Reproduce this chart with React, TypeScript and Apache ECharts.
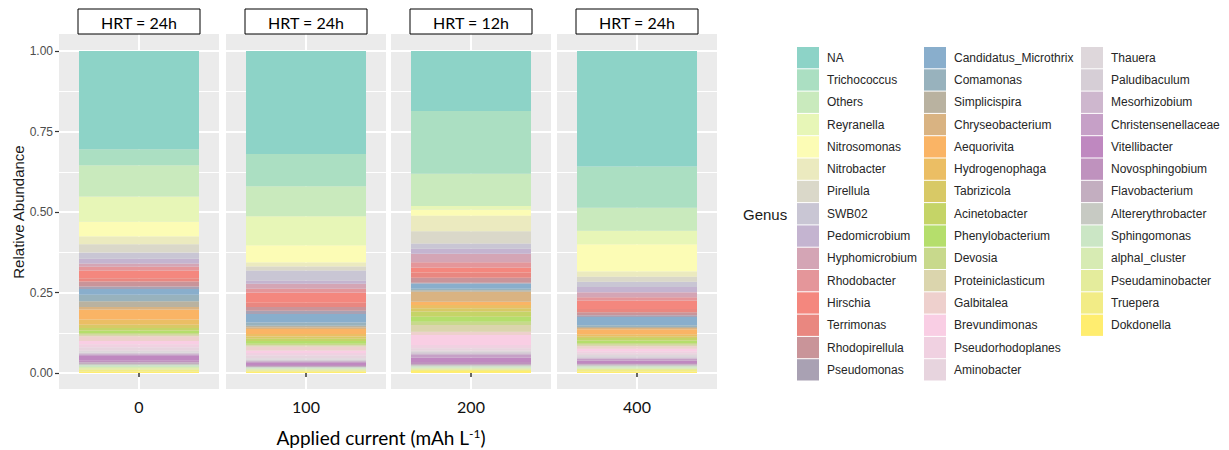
import React, { useEffect, useRef } from "react";
import * as echarts from "echarts";

// ---- Data ----
const genera = [
  "NA", "Trichococcus", "Others", "Reyranella", "Nitrosomonas", "Nitrobacter", "Pirellula", "SWB02",
  "Pedomicrobium", "Hyphomicrobium", "Rhodobacter", "Hirschia", "Terrimonas", "Rhodopirellula", "Pseudomonas",
  "Candidatus_Microthrix", "Comamonas", "Simplicispira", "Chryseobacterium", "Aequorivita", "Hydrogenophaga",
  "Tabrizicola", "Acinetobacter", "Phenylobacterium", "Devosia", "Proteiniclasticum", "Galbitalea",
  "Brevundimonas", "Pseudorhodoplanes", "Aminobacter",
  "Thauera", "Paludibaculum", "Mesorhizobium", "Christensenellaceae", "Vitellibacter", "Novosphingobium",
  "Flavobacterium", "Altererythrobacter", "Sphingomonas", "alphaI_cluster", "Pseudaminobacter", "Truepera",
  "Dokdonella",
];

const currents = ["0", "100", "200", "400"];
const hrtLabels = ["HRT = 24h", "HRT = 24h", "HRT = 12h", "HRT = 24h"];
const yTicks = [0, 0.25, 0.5, 0.75, 1];

// relative abundance per genus (same order as genera)
const abund0 = [0.305, 0.05, 0.097, 0.078, 0.046, 0.024, 0.026, 0.019, 0.015, 0.01, 0.012, 0.024, 0.01, 0.015, 0.008,
  0.018, 0.02, 0.018, 0.008, 0.031, 0.016, 0.01, 0.008, 0.008, 0.005, 0.005, 0.015, 0.01, 0.01, 0.01,
  0.005, 0.003, 0.003, 0.005, 0.015, 0.005, 0.005, 0.004, 0.005, 0.004, 0.005, 0.005, 0.005];
const abund100 = [0.32, 0.1, 0.093, 0.09, 0.054, 0.012, 0.013, 0.031, 0.01, 0.015, 0.013, 0.031, 0.013, 0.012, 0.01,
  0.026, 0.01, 0.005, 0.005, 0.016, 0.008, 0.007, 0.007, 0.008, 0.005, 0.004, 0.012, 0.008, 0.008, 0.008,
  0.005, 0.004, 0.003, 0.003, 0.006, 0.003, 0.003, 0.002, 0.003, 0.003, 0.003, 0.003, 0.005];
const abund200 = [0.186, 0.195, 0.1, 0.012, 0.019, 0.048, 0.038, 0.016, 0.016, 0.026, 0.016, 0.016, 0.016, 0.016, 0.002,
  0.016, 0.005, 0.005, 0.031, 0.01, 0.01, 0.01, 0.016, 0.016, 0.01, 0.021, 0.01, 0.031, 0.01, 0.008,
  0.004, 0.004, 0.005, 0.008, 0.014, 0.006, 0.004, 0.003, 0.004, 0.003, 0.004, 0.004, 0.006];
const abund400 = [0.359, 0.128, 0.071, 0.042, 0.085, 0.016, 0.016, 0.016, 0.016, 0.016, 0.01, 0.026, 0.01, 0.01, 0.005,
  0.026, 0.005, 0.003, 0.004, 0.016, 0.006, 0.005, 0.008, 0.008, 0.005, 0.005, 0.008, 0.008, 0.006, 0.005,
  0.004, 0.004, 0.004, 0.005, 0.008, 0.004, 0.003, 0.003, 0.004, 0.004, 0.004, 0.004, 0.005];
const abundances = [abund0, abund100, abund200, abund400];

// ---- Palette: colorRampPalette(brewer Set3) ----
const set3 = ["#8DD3C7", "#FFFFB3", "#BEBADA", "#FB8072", "#80B1D3", "#FDB462", "#B3DE69", "#FCCDE5", "#D9D9D9", "#BC80BD", "#CCEBC5", "#FFED6F"];
function rampColors(base: string[], n: number): string[] {
  const rgb = base.map((h) => [parseInt(h.slice(1, 3), 16), parseInt(h.slice(3, 5), 16), parseInt(h.slice(5, 7), 16)]);
  const out: string[] = [];
  for (let i = 0; i < n; i++) {
    const t = (i / (n - 1)) * (base.length - 1);
    const k = Math.min(Math.floor(t), base.length - 2);
    const f = t - k;
    const c = [0, 1, 2].map((j) => Math.round(rgb[k][j] + (rgb[k + 1][j] - rgb[k][j]) * f));
    out.push("#" + c.map((v) => v.toString(16).padStart(2, "0")).join(""));
  }
  return out;
}
const palette = rampColors(set3, genera.length);

// ---- Layout ----
const panelLeft = [59, 226, 391, 557];
const panelWidth = 160;
const panelTop = 34;
const panelBottom = 389;
const gridTop = 51;
const gridHeight = 322;

export default function App() {
  const ref = useRef<HTMLDivElement>(null);
  useEffect(() => {
    if (!ref.current) return;
    const chart = echarts.init(ref.current, undefined, { renderer: "svg" });

    const grids = panelLeft.map((l) => ({ left: l, width: panelWidth, top: gridTop, height: gridHeight }));
    const xAxes = currents.map((c, i) => ({
      type: "category",
      gridIndex: i,
      data: [c],
      offset: panelBottom - (gridTop + gridHeight),
      axisLine: { show: false },
      axisTick: { show: true, alignWithLabel: true, length: 4, lineStyle: { color: "#333", width: 1.5 } },
      axisLabel: { margin: 9, fontSize: 16, color: "#111", fontFamily: "Lato" },
      splitLine: { show: false },
    }));
    const yAxes = currents.map((_, i) => ({
      type: "value",
      gridIndex: i,
      min: 0,
      max: 1,
      interval: 0.25,
      axisLine: { show: false },
      axisTick: { show: i === 0, length: 4, lineStyle: { color: "#333", width: 1.2 } },
      axisLabel: {
        show: i === 0,
        formatter: (v: number) => (yTicks.includes(v) ? v.toFixed(2) : ""),
        fontSize: 12,
        color: "#4D4D4D",
        margin: 6,
        fontFamily: "Liberation Sans",
      },
      splitLine: { show: true, lineStyle: { color: "#FFFFFF", width: 2 } },
      minorTick: { show: false, splitNumber: 2 },
      minorSplitLine: { show: true, lineStyle: { color: "#FFFFFF", width: 1 } },
      name: i === 0 ? "Relative Abundance" : "",
      nameLocation: "middle",
      nameGap: 33,
      nameTextStyle: { fontSize: 15, color: "#1a1a1a", fontFamily: "Liberation Sans" },
    }));

    const series: any[] = [];
    abundances.forEach((vals, i) => {
      for (let g = genera.length - 1; g >= 0; g--) {
        series.push({
          type: "bar",
          name: genera[g],
          xAxisIndex: i,
          yAxisIndex: i,
          stack: "s" + i,
          data: [vals[g]],
          barWidth: "75%",
          itemStyle: { color: palette[g] },
          emphasis: { disabled: true },
        });
      }
    });

    const legendCommon = {
      orient: "vertical",
      top: 47,
      itemWidth: 22,
      itemHeight: 21.3,
      itemGap: 1,
      padding: 0,
      icon: "rect",
      selectedMode: false,
      textStyle: { fontSize: 12, color: "#262626", fontFamily: "Liberation Sans", padding: [0, 0, 0, 3] },
    };
    const legends = [
      { ...legendCommon, left: 797, data: genera.slice(0, 15) },
      { ...legendCommon, left: 924, data: genera.slice(15, 30) },
      { ...legendCommon, left: 1081, data: genera.slice(30) },
    ];

    const graphics: any[] = [];
    panelLeft.forEach((l, i) => {
      graphics.push({
        type: "rect",
        z: -10,
        silent: true,
        shape: { x: l, y: panelTop, width: panelWidth, height: panelBottom - panelTop },
        style: { fill: "#EBEBEB" },
      });
      graphics.push({
        type: "line",
        z: -5,
        silent: true,
        shape: { x1: l + panelWidth / 2, y1: panelTop, x2: l + panelWidth / 2, y2: panelBottom },
        style: { stroke: "#FFFFFF", lineWidth: 2 },
      });
      graphics.push({
        type: "rect",
        z: 10,
        shape: { x: l + 19, y: 9, width: 122, height: 25 },
        style: { fill: "#FFFFFF", stroke: "#000", lineWidth: 1 },
      });
      graphics.push({
        type: "text",
        z: 11,
        x: l + 80,
        y: 22,
        style: {
          text: hrtLabels[i],
          fontSize: 16,
          fontFamily: "Lato",
          fill: "#000",
          align: "center",
          verticalAlign: "middle",
        },
      });
    });
    graphics.push({
      type: "text",
      x: 743,
      y: 214,
      style: { text: "Genus", fontSize: 15, fontFamily: "Liberation Sans", fill: "#1a1a1a", align: "left", verticalAlign: "middle" },
    });
    graphics.push({
      type: "text",
      x: 381,
      y: 437,
      style: {
        text: "Applied current (mAh L{sup|-1})",
        fontSize: 19,
        fontFamily: "Lato",
        fill: "#000",
        align: "center",
        verticalAlign: "middle",
        rich: { sup: { fontSize: 12, fontFamily: "Lato", fill: "#000", verticalAlign: "top", padding: [0, 0, 8, 0] } },
      },
    });

    chart.setOption({
      animation: false,
      backgroundColor: "#FFFFFF",
      grid: grids,
      xAxis: xAxes,
      yAxis: yAxes,
      legend: legends,
      series,
      graphic: graphics,
    });
    return () => chart.dispose();
  }, []);
  return <div ref={ref} style={{ position: "fixed", left: 0, top: 0, width: 1229, height: 450 }} />;
}
